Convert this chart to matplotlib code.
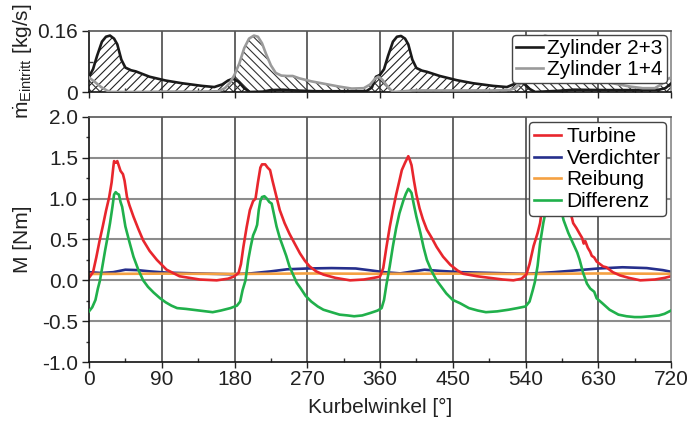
import matplotlib
matplotlib.use("Agg")
import matplotlib.pyplot as plt
from matplotlib.ticker import MultipleLocator

plt.rcParams['font.family'] = ['Liberation Sans', 'DejaVu Sans']
plt.rcParams['mathtext.fontset'] = 'custom'
plt.rcParams['mathtext.rm'] = 'Liberation Sans'
plt.rcParams['mathtext.it'] = 'Liberation Sans:italic'
plt.rcParams['hatch.linewidth'] = 0.8

# ---------------- data: top panel (mass flow) ----------------
ang_z23 = [0, 5, 10, 16, 21, 26, 31, 35, 40, 45, 52, 58, 75, 95, 115, 140, 155, 165, 172, 178,
           185, 192, 199, 215, 225, 240, 255, 280, 320, 343, 350, 355, 360, 365, 370, 376, 381,
           386, 391, 395, 400, 405, 412, 418, 434, 455, 475, 500, 517, 525, 531, 538, 545, 552,
           560, 580, 600, 640, 680, 705, 713, 720]
m_z23 = [0.040, 0.060, 0.095, 0.132, 0.145, 0.148, 0.140, 0.125, 0.085, 0.064, 0.057, 0.054,
         0.040, 0.030, 0.023, 0.016, 0.013, 0.020, 0.030, 0.035, 0.027, 0.010, 0.000, 0.001,
         0.005, 0.006, 0.004, 0.002, 0.002, 0.002, 0.012, 0.040, 0.045, 0.060, 0.095, 0.132,
         0.145, 0.147, 0.140, 0.125, 0.085, 0.063, 0.056, 0.053, 0.042, 0.031, 0.023, 0.016,
         0.013, 0.020, 0.027, 0.022, 0.008, 0.000, 0.001, 0.003, 0.006, 0.005, 0.005, 0.006,
         0.010, 0.022]

ang_z14 = [0, 8, 15, 22, 27, 60, 100, 140, 160, 168, 174, 180, 186, 192, 198, 204, 209, 214,
           219, 225, 231, 238, 245, 252, 260, 275, 295, 310, 325, 340, 348, 354, 358, 363, 368,
           374, 378, 400, 450, 500, 520, 527, 534, 540, 546, 552, 558, 564, 569, 574, 579, 585,
           591, 598, 605, 612, 620, 635, 655, 670, 685, 700, 708, 714, 720]
m_z14 = [0.038, 0.025, 0.013, 0.004, 0.000, 0.000, 0.001, 0.001, 0.002, 0.010, 0.023, 0.045,
         0.075, 0.115, 0.140, 0.148, 0.145, 0.128, 0.100, 0.070, 0.050, 0.043, 0.042, 0.042,
         0.036, 0.028, 0.020, 0.014, 0.009, 0.010, 0.020, 0.035, 0.040, 0.032, 0.018, 0.004,
         0.000, 0.004, 0.004, 0.004, 0.005, 0.010, 0.023, 0.045, 0.075, 0.115, 0.140, 0.148,
         0.145, 0.128, 0.100, 0.070, 0.050, 0.043, 0.042, 0.042, 0.036, 0.028, 0.020, 0.014,
         0.010, 0.010, 0.020, 0.032, 0.038]

# ---------------- data: bottom panel (torque) ----------------
ang_turb = [0, 5, 9, 13, 17, 21, 25, 28, 30, 31, 33, 35, 37, 39, 42, 44, 47, 50, 55, 61, 67,
            75, 84, 96, 112, 137, 158, 172, 179, 185, 188, 191, 195, 199, 203, 206, 209, 212,
            214, 218, 221, 224, 227, 230, 236, 242, 248, 255, 261, 267, 273, 281, 290, 305,
            323, 340, 352, 360, 364, 368, 372, 376, 380, 384, 387, 391, 395, 397, 399, 402,
            405, 409, 413, 418, 424, 430, 438, 447, 456, 463, 480, 496, 512, 525, 535, 541,
            545, 550, 555, 558, 562, 566, 570, 574, 578, 582, 587, 592, 596, 599, 603, 607,
            610, 612, 614, 617, 620, 622, 625, 628, 632, 636, 640, 648, 657, 668, 682, 700,
            712, 720]
m_turb = [0.03, 0.10, 0.28, 0.48, 0.66, 0.85, 1.02, 1.20, 1.38, 1.46, 1.44, 1.46, 1.40, 1.34,
          1.30, 1.22, 1.02, 0.92, 0.78, 0.63, 0.49, 0.36, 0.25, 0.13, 0.05, 0.01, 0.00, 0.02,
          0.045, 0.09, 0.20, 0.41, 0.65, 0.86, 0.97, 1.00, 1.20, 1.38, 1.42, 1.42, 1.38, 1.35,
          1.22, 1.10, 0.86, 0.70, 0.57, 0.44, 0.33, 0.24, 0.17, 0.11, 0.07, 0.03, 0.00, 0.01,
          0.03, 0.045, 0.15, 0.41, 0.65, 0.86, 1.05, 1.22, 1.35, 1.44, 1.52, 1.47, 1.41, 1.22,
          1.05, 0.88, 0.75, 0.62, 0.52, 0.41, 0.29, 0.19, 0.12, 0.08, 0.05, 0.03, 0.01, 0.00,
          0.02, 0.07, 0.20, 0.42, 0.58, 0.70, 0.98, 1.20, 1.38, 1.46, 1.45, 1.35, 1.18, 0.98,
          0.82, 0.70, 0.64, 0.57, 0.52, 0.45, 0.48, 0.40, 0.35, 0.30, 0.28, 0.23, 0.20, 0.17,
          0.16, 0.10, 0.06, 0.03, 0.00, 0.01, 0.03, 0.05]

ang_verd = [0, 15, 30, 45, 60, 75, 95, 130, 175, 200, 225, 245, 270, 300, 330, 350, 365, 385,
            405, 415, 435, 460, 500, 540, 575, 600, 630, 660, 690, 710, 720]
m_verd = [0.100, 0.090, 0.100, 0.130, 0.125, 0.110, 0.095, 0.085, 0.075, 0.085, 0.110, 0.135,
          0.145, 0.150, 0.145, 0.120, 0.100, 0.085, 0.115, 0.130, 0.115, 0.100, 0.090, 0.080,
          0.100, 0.120, 0.145, 0.160, 0.150, 0.125, 0.105]

ang_reib = [0, 90, 180, 270, 360, 450, 540, 630, 720]
m_reib = [0.078, 0.082, 0.078, 0.084, 0.080, 0.082, 0.078, 0.084, 0.080]

ang_diff = [0, 4, 8, 11, 13.6, 17, 20, 23, 26, 29, 31, 33, 35, 37, 39, 41, 43, 45, 50, 55, 61,
            67, 73, 80, 88, 95, 102, 109, 120, 136, 145, 153, 163, 175, 183, 187, 190, 193.6,
            197, 200, 203, 206, 208, 210, 212, 214, 217, 220, 223, 226, 229, 232, 236, 240,
            244, 248, 252, 257, 262, 268, 275, 283, 290, 300, 310, 320, 328, 338, 348, 357,
            362, 365, 368, 372, 376, 380, 384, 389, 392, 395, 397, 399, 402, 405, 410, 414,
            418, 424, 430, 436, 442, 450, 459, 470, 481, 491, 505, 519, 530, 540, 545, 549,
            551.6, 555, 558, 562, 566, 570, 574, 578, 583, 587, 593, 599, 604, 607, 611, 616,
            620, 625, 628, 635, 644, 655, 665, 675, 683, 695, 705, 712, 720]
m_diff = [-0.38, -0.33, -0.24, -0.10, 0.00, 0.20, 0.37, 0.53, 0.70, 0.90, 1.05, 1.08, 1.06,
          1.05, 0.96, 0.90, 0.78, 0.66, 0.47, 0.29, 0.13, 0.00, -0.08, -0.15, -0.22, -0.27,
          -0.31, -0.34, -0.35, -0.37, -0.38, -0.39, -0.37, -0.34, -0.31, -0.26, -0.12, 0.00,
          0.25, 0.41, 0.55, 0.62, 0.68, 0.86, 0.97, 1.02, 1.03, 1.00, 0.96, 0.94, 0.80, 0.66,
          0.52, 0.41, 0.30, 0.17, 0.08, -0.03, -0.10, -0.19, -0.26, -0.32, -0.36, -0.39,
          -0.42, -0.43, -0.44, -0.43, -0.40, -0.37, -0.34, -0.24, -0.05, 0.17, 0.42, 0.64,
          0.82, 0.98, 1.06, 1.12, 1.10, 1.07, 0.92, 0.78, 0.58, 0.40, 0.25, 0.11, 0.00, -0.08,
          -0.16, -0.24, -0.28, -0.34, -0.37, -0.39, -0.38, -0.36, -0.34, -0.32, -0.26, -0.12,
          -0.02, 0.18, 0.45, 0.70, 0.90, 1.05, 1.10, 1.08, 0.92, 0.74, 0.58, 0.45, 0.34, 0.25,
          0.10, -0.04, -0.10, -0.14, -0.22, -0.28, -0.36, -0.42, -0.44, -0.45, -0.45, -0.44,
          -0.43, -0.41, -0.37]

x_ticks = [0, 90, 180, 270, 360, 450, 540, 630, 720]

# ---------------- figure ----------------
W, H = 693, 421
fig = plt.figure(figsize=(W / 100, H / 100), dpi=100)

def frac(x0, y0, x1, y1):
    return [x0 / W, 1 - y1 / H, (x1 - x0) / W, (y1 - y0) / H]

ax1 = fig.add_axes(frac(89, 31, 671, 92))
ax2 = fig.add_axes(frac(89, 117, 671, 362))

FS = 15
grid_v = '#4a4a4a'
grid_h = '#8c8c8c'

for ax in (ax1, ax2):
    ax.set_xlim(0, 720)
    ax.set_xticks(x_ticks)
    ax.xaxis.set_minor_locator(MultipleLocator(45))
    ax.tick_params(axis='x', which='major', direction='out', length=4, width=1, pad=2,
                   labelsize=FS, colors='#222222')
    ax.tick_params(axis='x', which='minor', direction='in', length=3, width=1, color='#333333')
    ax.tick_params(axis='y', which='major', direction='out', length=5, width=1, pad=3,
                   labelsize=FS, colors='#222222')
    ax.tick_params(axis='y', which='minor', direction='out', length=2.5, width=1, color='#333333')
    for x in x_ticks[1:-1]:
        ax.axvline(x, color=grid_v, lw=1.2, zorder=0.5)
    ax.spines['left'].set_color('#111111')
    ax.spines['bottom'].set_color('#111111')
    ax.spines['top'].set_color('#555555')
    ax.spines['right'].set_color('#888888')
    for s in ax.spines.values():
        s.set_linewidth(1.2)

# top panel
ax1.set_ylim(0, 0.16)
ax1.set_yticks([0, 0.16])
ax1.set_yticklabels(['0', '0.16'])
ax1.yaxis.set_minor_locator(MultipleLocator(0.08))
ax1.tick_params(axis='y', which='minor', direction='in', length=3)
ax1.tick_params(axis='x', which='major', labelbottom=False)
ax1.fill_between(ang_z23, 0, m_z23, facecolor='none', edgecolor='#222222', hatch='////',
                 linewidth=0, zorder=1)
ax1.fill_between(ang_z14, 0, m_z14, facecolor='none', edgecolor='#333333', hatch='\\\\\\\\',
                 linewidth=0, zorder=1)
ax1.plot(ang_z23, m_z23, color='#1a1a1a', lw=1.9, label='Zylinder 2+3', zorder=3)
ax1.plot(ang_z14, m_z14, color='#9a9a9a', lw=1.9, label='Zylinder 1+4', zorder=3)
leg1 = ax1.legend(loc='upper right', fontsize=FS, frameon=True, fancybox=True, framealpha=1,
                  borderpad=0.2, handlelength=1.3, handletextpad=0.2, labelspacing=0.08,
                  borderaxespad=0.2)
leg1.get_frame().set_edgecolor('#444444')
leg1.get_frame().set_linewidth(1.0)
leg1.set_zorder(10)
ax1.set_ylabel(r'$\dot{\mathrm{m}}_{\mathrm{Eintritt}}$ [kg/s]', fontsize=FS, color='#222222')
ax1.yaxis.set_label_coords(-0.095, 0.5)

# bottom panel
ax2.set_ylim(-1.0, 2.0)
ax2.set_yticks([-1.0, -0.5, 0.0, 0.5, 1.0, 1.5, 2.0])
ax2.set_yticklabels(['-1.0', '-0.5', '0.0', '0.5', '1.0', '1.5', '2.0'])
ax2.yaxis.set_minor_locator(MultipleLocator(0.25))
for y in [-0.5, 0.0, 0.5, 1.0, 1.5]:
    ax2.axhline(y, color=grid_h, lw=1.5, zorder=0.4)

ax2.plot(ang_verd, m_verd, color='#262f8c', lw=1.9, label='Verdichter', zorder=2)
ax2.plot(ang_reib, m_reib, color='#f5a142', lw=1.9, label='Reibung', zorder=2.2)
ax2.plot(ang_turb, m_turb, color='#e8262d', lw=1.9, label='Turbine', zorder=2.4)
ax2.plot(ang_diff, m_diff, color='#20b04b', lw=1.9, label='Differenz', zorder=2.6)
h, l = ax2.get_legend_handles_labels()
order = [l.index(n) for n in ['Turbine', 'Verdichter', 'Reibung', 'Differenz']]
leg2 = ax2.legend([h[i] for i in order], [l[i] for i in order], loc='upper right',
                  fontsize=FS, frameon=True, fancybox=True, framealpha=1, borderpad=0.25,
                  handlelength=1.3, handletextpad=0.25, labelspacing=0.12, borderaxespad=0.25)
leg2.get_frame().set_edgecolor('#444444')
leg2.get_frame().set_linewidth(1.0)
leg2.set_zorder(10)
ax2.set_ylabel('M [Nm]', fontsize=FS, color='#222222')
ax2.yaxis.set_label_coords(-0.098, 0.5)
ax2.set_xlabel('Kurbelwinkel [°]', fontsize=FS, color='#222222', labelpad=6)

fig.savefig('out.png', dpi=100)
